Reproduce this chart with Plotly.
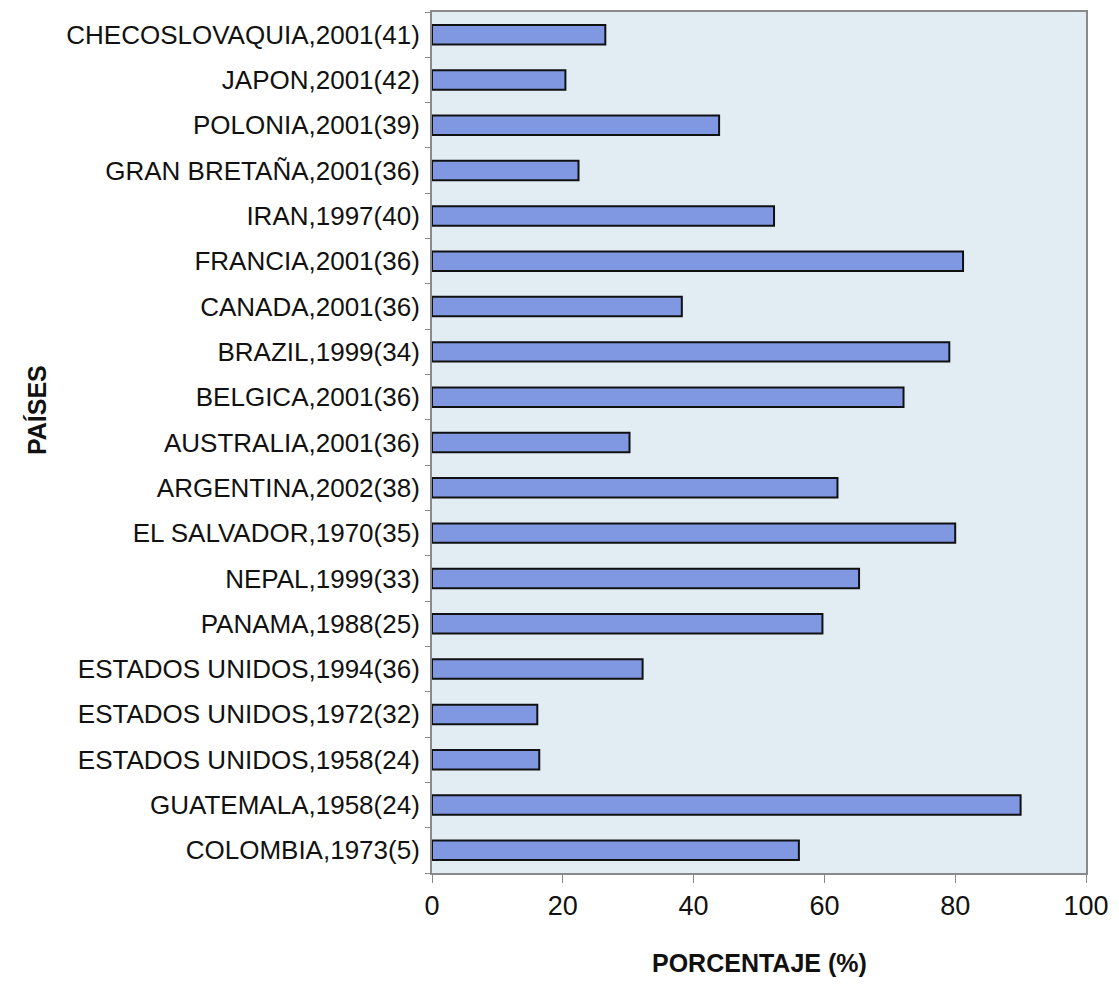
import plotly.graph_objects as go

# Países (de abajo hacia arriba) y porcentaje correspondiente
paises = [
    "COLOMBIA,1973(5)",
    "GUATEMALA,1958(24)",
    "ESTADOS UNIDOS,1958(24)",
    "ESTADOS UNIDOS,1972(32)",
    "ESTADOS UNIDOS,1994(36)",
    "PANAMA,1988(25)",
    "NEPAL,1999(33)",
    "EL SALVADOR,1970(35)",
    "ARGENTINA,2002(38)",
    "AUSTRALIA,2001(36)",
    "BELGICA,2001(36)",
    "BRAZIL,1999(34)",
    "CANADA,2001(36)",
    "FRANCIA,2001(36)",
    "IRAN,1997(40)",
    "GRAN BRETAÑA,2001(36)",
    "POLONIA,2001(39)",
    "JAPON,2001(42)",
    "CHECOSLOVAQUIA,2001(41)",
]
porcentaje = [56.1, 90.0, 16.4, 16.1, 32.2, 59.7, 65.3, 80.0, 62.0, 30.2,
              72.1, 79.1, 38.2, 81.2, 52.3, 22.4, 43.9, 20.4, 26.5]

x_ticks = [0, 20, 40, 60, 80, 100]

FONT = "Liberation Sans, Arial, sans-serif"

fig = go.Figure(
    go.Bar(
        x=porcentaje,
        y=paises,
        orientation="h",
        marker=dict(color="#8097e2", line=dict(color="#111111", width=2)),
    )
)

fig.update_layout(
    width=1119,
    height=993,
    margin=dict(l=432, r=31, t=10, b=120),
    paper_bgcolor="white",
    plot_bgcolor="#e2edf3",
    bargap=0.57,
    showlegend=False,
    font=dict(family=FONT, color="#111111"),
    annotations=[
        dict(
            text="<b>PORCENTAJE (%)</b>",
            xref="paper", yref="paper",
            x=0.5, y=-0.105, yanchor="middle", xanchor="center",
            showarrow=False,
            font=dict(size=25, family=FONT, color="#111111"),
        ),
        dict(
            text="<b>PAÍSES</b>",
            xref="paper", yref="paper",
            x=-0.605, y=0.538, xanchor="center", yanchor="middle",
            textangle=-90,
            showarrow=False,
            font=dict(size=25, family=FONT, color="#111111"),
        ),
    ],
)

fig.update_xaxes(
    range=[0, 100],
    tickvals=x_ticks,
    ticktext=[str(v) for v in x_ticks],
    ticks="outside",
    ticklen=8,
    tickcolor="#888888",
    tickfont=dict(size=27, family=FONT, color="#111111"),
    showgrid=False,
    zeroline=False,
    showline=True,
    linecolor="#8a8a8a",
    linewidth=2,
    mirror=True,
)

fig.update_yaxes(
    type="category",
    categoryorder="array",
    categoryarray=paises,
    ticks="outside",
    tickson="boundaries",
    ticklen=5,
    tickcolor="#888888",
    ticklabelstandoff=5,
    tickfont=dict(size=26, family=FONT, color="#111111"),
    showgrid=False,
    zeroline=False,
    showline=True,
    linecolor="#8a8a8a",
    linewidth=2,
    mirror=True,
)

fig.write_html("out.html")
